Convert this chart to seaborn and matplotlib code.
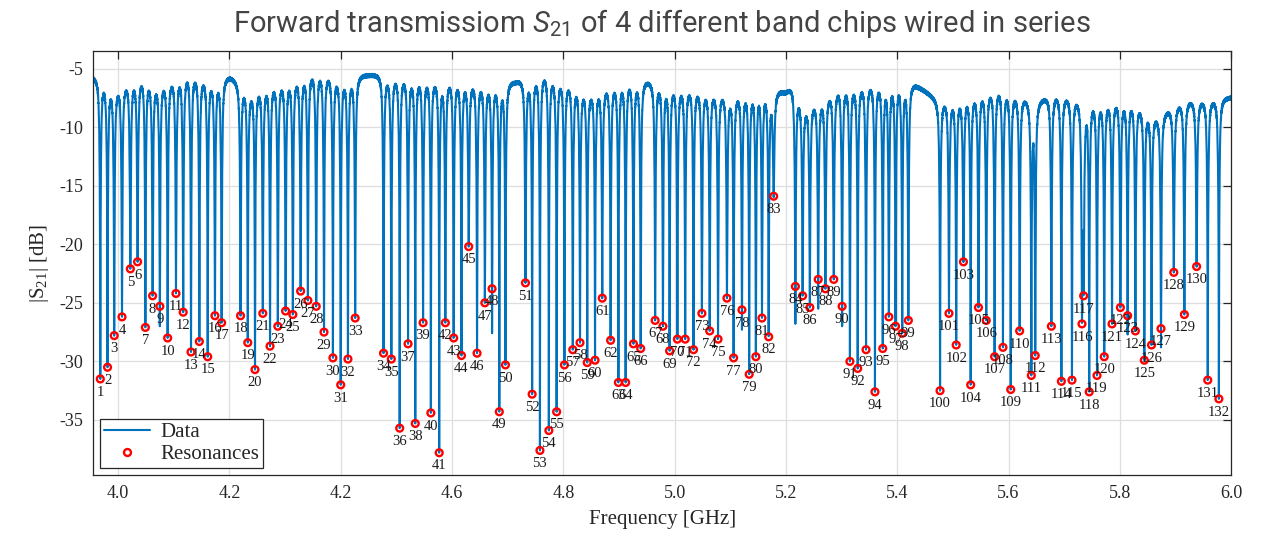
import numpy as np
import pandas as pd
import matplotlib
matplotlib.use("Agg")
import matplotlib.pyplot as plt
from matplotlib.lines import Line2D
import seaborn as sns

# Resonance frequencies (GHz) of the four band chips, numbered 1..132
res_freq = [
    3.968, 3.981, 3.993, 4.007, 4.022, 4.035, 4.049, 4.062, 4.075, 4.089,
    4.104, 4.117, 4.131, 4.146, 4.161, 4.174, 4.186, 4.220, 4.233, 4.246,
    4.260, 4.273, 4.287, 4.301, 4.314, 4.328, 4.341, 4.356, 4.370, 4.386,
    4.400, 4.413, 4.426, 4.477, 4.491, 4.506, 4.521, 4.534, 4.548, 4.562,
    4.577, 4.588, 4.603, 4.617, 4.630, 4.645, 4.659, 4.672, 4.685, 4.696,
    4.732, 4.744, 4.758, 4.774, 4.788, 4.802, 4.817, 4.830, 4.843, 4.857,
    4.870, 4.885, 4.899, 4.912, 4.926, 4.939, 4.965, 4.979, 4.991, 5.005,
    5.019, 5.034, 5.049, 5.063, 5.078, 5.094, 5.106, 5.121, 5.134, 5.146,
    5.157, 5.169, 5.178, 5.217, 5.230, 5.243, 5.258, 5.271, 5.286, 5.301,
    5.315, 5.329, 5.344, 5.360, 5.374, 5.385, 5.397, 5.409, 5.420, 5.477,
    5.493, 5.506, 5.519, 5.532, 5.546, 5.560, 5.575, 5.590, 5.604, 5.620,
    5.641, 5.648, 5.677, 5.695, 5.714, 5.732, 5.735, 5.745, 5.759, 5.772,
    5.786, 5.801, 5.814, 5.828, 5.844, 5.857, 5.874, 5.897, 5.916, 5.938,
    5.958, 5.978,
]

# Transmission at each resonance (dB)
res_db = [
    -31.5, -30.5, -27.8, -26.2, -22.1, -21.5, -27.1, -24.4, -25.3, -28.0,
    -24.2, -25.8, -29.2, -28.3, -29.6, -26.1, -26.7, -26.1, -28.4, -30.7,
    -25.9, -28.7, -27.0, -25.7, -26.0, -24.0, -24.8, -25.3, -27.5, -29.7,
    -32.0, -29.8, -26.3, -29.3, -29.8, -35.7, -28.5, -35.3, -26.7, -34.4,
    -37.8, -26.7, -28.0, -29.5, -20.2, -29.3, -25.0, -23.8, -34.3, -30.3,
    -23.3, -32.8, -37.6, -35.9, -34.3, -30.3, -29.0, -28.4, -30.1, -29.9,
    -24.6, -28.2, -31.8, -31.8, -28.5, -28.9, -26.5, -27.0, -29.1, -28.1,
    -28.1, -29.0, -25.9, -27.4, -28.1, -24.6, -29.7, -25.6, -31.1, -29.6,
    -26.3, -27.9, -15.9, -23.6, -24.4, -25.4, -23.0, -23.8, -23.0, -25.3,
    -30.0, -30.6, -29.0, -32.6, -28.9, -26.2, -27.0, -27.6, -26.5, -32.5,
    -25.9, -28.6, -21.5, -32.0, -25.4, -26.5, -29.6, -28.8, -32.4, -27.4,
    -31.2, -29.5, -27.0, -31.7, -31.6, -26.8, -24.4, -32.6, -31.2, -29.6,
    -26.8, -25.4, -26.1, -27.4, -29.9, -28.6, -27.2, -22.4, -26.0, -21.9,
    -31.6, -33.2,
]
res_index = list(range(1, len(res_freq) + 1))

# Dips whose measured minimum lies below the marked resonance level (dB)
trace_floor = {9: -27.0, 48: -27.6, 78: -27.3, 84: -26.8, 87: -25.5,
               90: -27.0, 123: -27.7, 127: -28.8}

# Off-resonance transmission level along the band
base_freq = [3.955, 3.968, 3.995, 4.027, 4.045, 4.070, 4.093, 4.126, 4.165,
             4.201, 4.237, 4.273, 4.314, 4.356, 4.399, 4.449, 4.507, 4.597,
             4.668, 4.713, 4.767, 4.848, 4.915, 4.952, 5.019, 5.100, 5.154,
             5.199, 5.211, 5.235, 5.261, 5.297, 5.360, 5.405, 5.432, 5.472,
             5.504, 5.585, 5.648, 5.684, 5.747, 5.815, 5.869, 5.914, 6.000]
base_db = [-5.6, -5.6, -6.2, -5.5, -5.2, -5.8, -5.5, -4.9, -5.5,
           -5.5, -6.4, -5.8, -5.4, -4.7, -5.4, -5.4, -5.2, -5.5,
           -5.8, -5.9, -5.0, -6.4, -5.5, -5.8, -6.1, -6.8, -6.2,
           -6.8, -6.3, -7.7, -7.2, -6.1, -5.8, -5.6, -6.2, -7.5,
           -7.1, -6.2, -7.6, -6.9, -7.3, -7.2, -8.8, -7.5, -7.4]

x_ticks = [4.0, 4.2, 4.4, 4.6, 4.8, 5.0, 5.2, 5.4, 5.6, 5.8, 6.0]
x_tick_labels = ["4.0", "4.2", "4.2", "4.6", "4.8", "5.0", "5.2", "5.4",
                 "5.6", "5.8", "6.0"]
y_ticks = [-35, -30, -25, -20, -15, -10, -5]

DATA_BLUE = "#0072BD"
RES_RED = "#FF0000"

# ---- synthesize the swept transmission trace ---------------------------
half_width = 0.0026  # GHz


def ripple(f):
    return (0.09 * np.sin(2 * np.pi * f / 0.00041)
            + 0.06 * np.sin(2 * np.pi * f / 0.00113 + 1.3))


rf = np.asarray(res_freq)
floor = np.array([trace_floor.get(i, d) for i, d in zip(res_index, res_db)])
b0 = np.interp(rf, base_freq, base_db) + ripple(rf)
d = (rf[:, None] - rf[None, :]) / half_width
others = np.where(np.eye(len(rf), dtype=bool), 1.0, d ** 2 / (1 + d ** 2))
others_db = 10 * np.log10(others.prod(axis=1))
smin2 = 10 ** ((floor - b0 - others_db) / 10)

freq = np.union1d(np.linspace(3.955, 6.0, 40001), rf)
mag2 = np.ones_like(freq)
for f0, s2 in zip(rf, smin2):
    x = (freq - f0) / half_width
    mag2 *= (s2 + x ** 2) / (1 + x ** 2)
trace_db = np.interp(freq, base_freq, base_db) + ripple(freq) + 10 * np.log10(mag2)

trace = pd.DataFrame({"freq": freq, "s21": trace_db})
res = pd.DataFrame({"freq": res_freq, "s21": res_db, "n": res_index})

# ---- style --------------------------------------------------------------
sns.set_style("whitegrid")
plt.rcParams["font.family"] = ["Liberation Serif", "DejaVu Serif"]
plt.rcParams["axes.unicode_minus"] = False
plt.rcParams["mathtext.fontset"] = "custom"
plt.rcParams["mathtext.rm"] = "Roboto"
plt.rcParams["mathtext.it"] = "Roboto:italic"
plt.rcParams["mathtext.sf"] = "Liberation Serif"

fig = plt.figure(figsize=(12.73, 5.46), dpi=100)
ax = fig.add_axes([0.0731, 0.1300, 0.8940, 0.7766])

sns.lineplot(data=trace, x="freq", y="s21", ax=ax, color=DATA_BLUE,
             linewidth=1.5, estimator=None, sort=False, legend=False)
sns.scatterplot(data=res, x="freq", y="s21", ax=ax, marker="o", s=24,
                facecolor="none", edgecolor=RES_RED, linewidth=1.7,
                legend=False, zorder=4)

for n, fx, fy in zip(res_index, res_freq, res_db):
    ax.annotate(str(n), (fx, fy), xytext=(0, -9.5), textcoords="offset points",
                ha="center", va="center", fontsize=10.5, color="#1a1a1a",
                zorder=5)

ax.set_xlim(3.955, 6.0)
ax.set_ylim(-39.7, -3.5)
ax.set_xticks(x_ticks)
ax.set_xticklabels(x_tick_labels)
ax.set_yticks(y_ticks)
ax.set_yticklabels([str(v) for v in y_ticks])

ax.grid(True, color="#dedede", linewidth=0.9)
for side in ["left", "right", "top", "bottom"]:
    ax.spines[side].set_visible(True)
    ax.spines[side].set_color("#262626")
    ax.spines[side].set_linewidth(0.9)
ax.tick_params(direction="in", length=6, width=0.9, color="#262626",
               top=True, right=True, labelsize=13, pad=7,
               labelcolor="#262626")

ax.set_xlabel("Frequency [GHz]", fontsize=15, color="#262626", labelpad=6)
ax.set_ylabel(r"|S$_\mathsf{21}$| [dB]", fontsize=15, color="#262626",
              labelpad=6)
ax.set_title(r"Forward transmissiom $S_{21}$ of 4 different band chips wired in series",
             fontsize=21, color="#444444", family=["Roboto", "DejaVu Sans"],
             pad=14)

handles = [
    Line2D([], [], color=DATA_BLUE, linewidth=1.5),
    Line2D([], [], linestyle="none", marker="o", markersize=5,
           markerfacecolor="none", markeredgecolor=RES_RED,
           markeredgewidth=1.7),
]
leg = ax.legend(handles, ["Data", "Resonances"], loc="lower left",
                bbox_to_anchor=(0.006, 0.016), fontsize=15, frameon=True,
                fancybox=False, framealpha=1, edgecolor="#262626",
                borderpad=0.2, labelspacing=0.1, handlelength=2.2,
                handletextpad=0.5, borderaxespad=0)
leg.get_frame().set_linewidth(0.9)

fig.savefig("out.png", dpi=100)
